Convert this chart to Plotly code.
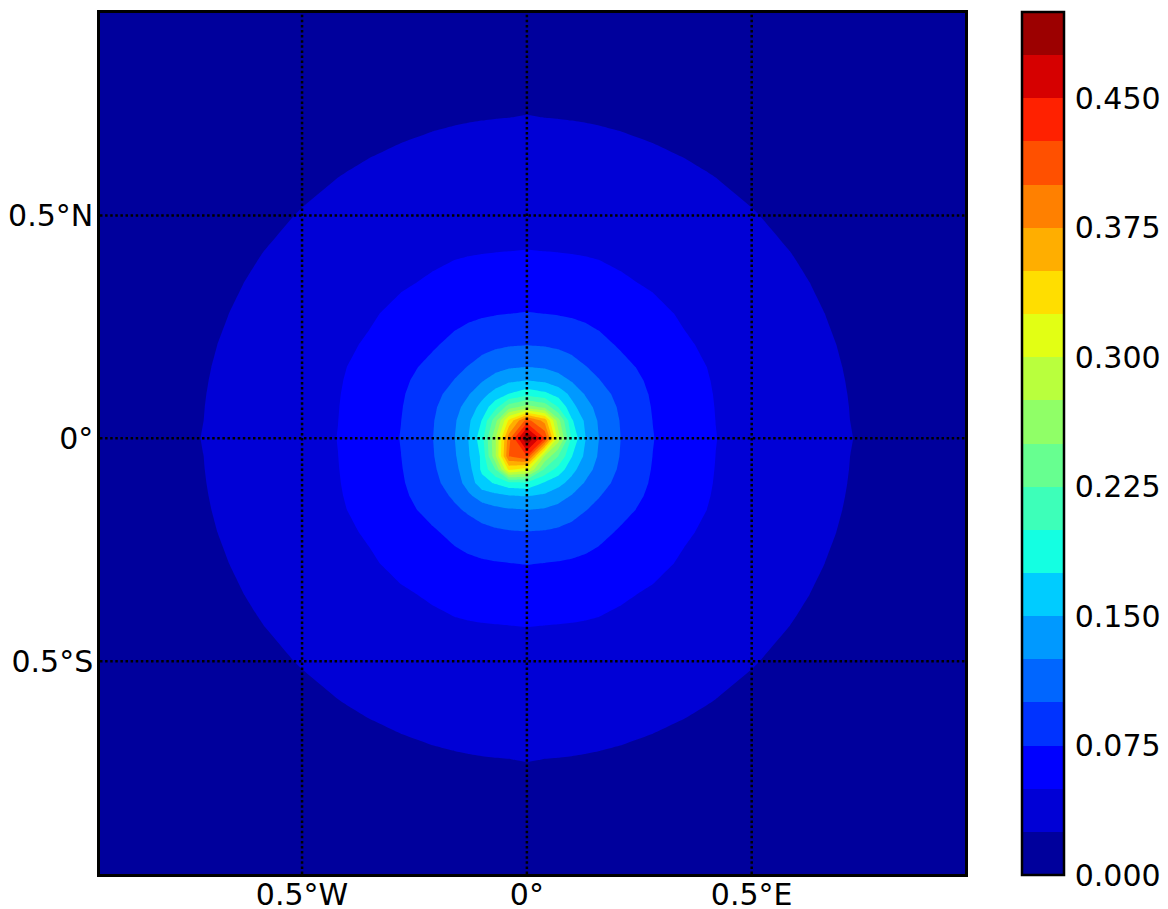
import numpy as np
import plotly.graph_objects as go

# Longitude / latitude nodes (degrees), field values in thousandths
LON = [-1, -.72, -.6, -.5, -.42, -.35, -.28, -.21, -.16, -.13, -.1, -.07, -.04, 0,
       .04, .07, .1, .13, .16, .21, .28, .35, .42, .5, .6, .72, 1]
LAT_N_TO_S = [1, .72, .6, .5, .42, .35, .28, .21, .16, .13, .1, .07, .04, 0,
              -.04, -.07, -.1, -.13, -.16, -.21, -.28, -.35, -.42, -.5, -.6, -.72, -1]
Z_MILLI = [
 [1,1,1,1,1,1,1,1,2,2,2,2,2,2,2,2,2,2,2,1,1,1,1,1,1,1,1],
 [1,1,7,12,15.5,18.4,20.6,22.5,23.5,24,24.4,24.7,24.9,25.5,24.9,24.7,24.4,24,23.5,22.5,20.6,18.4,15.5,12,7,1,1],
 [1,7,14.3,19.9,24,27.1,29.8,32,33.3,33.8,34.3,34.7,34.9,35,34.9,34.7,34.3,33.8,33.3,32,29.8,27.1,24,19.9,14.3,7,1],
 [1,12,19.9,26.1,30.6,34.2,37.2,39.8,41.3,42,42.5,42.9,43.2,43.3,43.2,42.9,42.5,42,41.3,39.8,37.2,34.2,30.6,26.1,19.9,12,1],
 [1,15.5,24,30.6,35.5,39.4,42.9,45.8,47.5,48.3,49,49.5,49.9,50.3,49.9,49.5,49,48.3,47.5,45.8,42.9,39.4,35.5,30.6,24,15.5,1],
 [1,18.4,27.1,34.2,39.4,43.8,47.7,52.2,56.4,58.5,60.2,61.4,62.3,62.7,62.3,61.4,60.2,58.5,56.4,52.2,47.7,43.8,39.4,34.2,27.1,18.4,1],
 [1,20.6,29.8,37.2,42.9,47.7,54.8,62.7,67.8,70.1,72.3,73.7,74.8,75.7,74.8,73.7,72.3,70.1,67.8,62.7,54.8,47.7,42.9,37.2,29.8,20.6,1],
 [1,22.5,32,39.8,45.8,52.2,62.7,72.3,81,86.8,91.5,95.6,98,99.3,98,95.6,91.5,86.8,81,72.3,62.7,52.2,45.8,39.8,32,22.5,1],
 [1,23.5,33.3,41.3,47.5,56.4,67.8,81,94,101,110,117,122.4,125.3,122.4,117,110,101,94,81,67.8,56.4,47.5,41.3,33.3,23.5,1],
 [2,24,33.8,42,48.3,58.5,70.1,86.8,101,112,123,135,145,150.4,145,135,123,112,101,86.8,70.1,58.5,48.3,42,33.8,24,2],
 [2,24.4,34.3,42.5,49,60.2,72.3,91.5,110,123,141,159,175.3,190,180,165,143,123,110,91.5,72.3,60.2,49,42.5,34.3,24.4,2],
 [2,24.7,34.7,42.9,49.5,61.4,73.7,95.6,117,135,159,192,240,262,245,200,158,135,117,95.6,73.7,61.4,49.5,42.9,34.7,24.7,2],
 [2,24.9,34.9,43.2,49.9,62.3,74.8,98,122.4,145,176,240,330,410,365,260,178,146,122.4,98,74.8,62.3,49.9,43.2,34.9,24.9,2],
 [2,25.5,35,43.3,50.3,62.7,75.7,99.3,125.3,150.4,190,272,390,505,425,290,195,151,125.3,99.3,75.7,62.7,50.3,43.3,35,25.5,2],
 [2,24.9,34.9,43.2,49.9,62.3,74.8,98,122.4,147,180,270,400,425,270,225,176,145,122.4,98,74.8,62.3,49.9,43.2,34.9,24.9,2],
 [2,24.7,34.7,42.9,49.5,61.4,73.7,95.6,119,140,180,225,330,312,220,190,158,135,117,95.6,73.7,61.4,49.5,42.9,34.7,24.7,2],
 [2,24.4,34.3,42.5,49,60.2,72.3,92.5,113,135,165,178,192,195,172,158,141,123,110,91.5,72.3,60.2,49,42.5,34.3,24.4,2],
 [2,24,33.8,42,48.3,58.5,70.1,88,104,120,135,142,147,150.4,145,135,123,112,101,86.8,70.1,58.5,48.3,42,33.8,24,2],
 [1,23.5,33.3,41.3,47.5,56.4,67.8,82,96,104,113,119,123,125.3,122.4,117,110,101,94,81,67.8,56.4,47.5,41.3,33.3,23.5,1],
 [1,22.5,32,39.8,45.8,52.2,62.7,72.3,81,86.8,91.5,95.6,98,99.3,98,95.6,91.5,86.8,81,72.3,62.7,52.2,45.8,39.8,32,22.5,1],
 [1,20.6,29.8,37.2,42.9,47.7,54.8,62.7,67.8,70.1,72.3,73.7,74.8,75.7,74.8,73.7,72.3,70.1,67.8,62.7,54.8,47.7,42.9,37.2,29.8,20.6,1],
 [1,18.4,27.1,34.2,39.4,43.8,47.7,52.2,56.4,58.5,60.2,61.4,62.3,62.7,62.3,61.4,60.2,58.5,56.4,52.2,47.7,43.8,39.4,34.2,27.1,18.4,1],
 [1,15.5,24,30.6,35.5,39.4,42.9,45.8,47.5,48.3,49,49.5,49.9,50.3,49.9,49.5,49,48.3,47.5,45.8,42.9,39.4,35.5,30.6,24,15.5,1],
 [1,12,19.9,26.1,30.6,34.2,37.2,39.8,41.3,42,42.5,42.9,43.2,43.3,43.2,42.9,42.5,42,41.3,39.8,37.2,34.2,30.6,26.1,19.9,12,1],
 [1,7,14.3,19.9,24,27.1,29.8,32,33.3,33.8,34.3,34.7,34.9,35,34.9,34.7,34.3,33.8,33.3,32,29.8,27.1,24,19.9,14.3,7,1],
 [1,1,7,12,15.5,18.4,20.6,22.5,23.5,24,24.4,24.7,24.9,25.5,24.9,24.7,24.4,24,23.5,22.5,20.6,18.4,15.5,12,7,1,1],
 [1,1,1,1,1,1,1,1,2,2,2,2,2,2,2,2,2,2,2,1,1,1,1,1,1,1,1],
]

BAND_COLORS = ["#00009c", "#0000d6", "#0000ff", "#0033ff", "#0066ff", "#0099ff", "#00ccff",
               "#14ffe2", "#3dffb9", "#67ff90", "#90ff67", "#b9ff3d", "#e2ff14", "#ffde00",
               "#ffae00", "#ff8000", "#ff5000", "#ff2100", "#d60000", "#9c0000"]
LON_TICKS = [-.5, 0, .5]
LON_LABELS = ["0.5°W", "0°", "0.5°E"]
LAT_TICKS = [-.5, 0, .5]
LAT_LABELS = ["0.5°S", "0°", "0.5°N"]
CBAR_TICKS = [0, .075, .15, .225, .3, .375, .45]

X_RANGE = [-.9494, .9744]
Y_RANGE = [-.977, .954]
FONT = "DejaVu Sans"
FS = 30
LEFT, RIGHT, TOP, BOTTOM = 99.75, 965.5, 12.5, 873.75
W, H = RIGHT - LEFT, BOTTOM - TOP
CB_LEFT, CB_RIGHT, CB_TOP, CB_BOTTOM = 1023, 1065, 11.25, 875

n = len(BAND_COLORS)
colorscale = []
for i, c in enumerate(BAND_COLORS):
    colorscale += [[i / n, c], [(i + 1) / n, c]]

z = (np.array(Z_MILLI, dtype=float) / 1000)[::-1]

fig = go.Figure(go.Contour(
    x=LON, y=LAT_N_TO_S[::-1], z=z,
    zmin=0, zmax=.5, autocontour=False,
    contours=dict(start=0, end=.5, size=.025, coloring="fill", showlines=False),
    line=dict(width=0, smoothing=0),
    colorscale=colorscale,
    hoverinfo="skip",
    colorbar=dict(
        thicknessmode="pixels", thickness=CB_RIGHT - CB_LEFT,
        lenmode="fraction", len=(CB_BOTTOM - CB_TOP) / H,
        x=(CB_LEFT - LEFT) / W, xanchor="left", xpad=0, ypad=0, y=.5, yanchor="middle",
        tickmode="array", tickvals=CBAR_TICKS, tickformat=".3f",
        ticks="outside", ticklen=4, tickwidth=1, tickcolor="rgba(0,0,0,0)",
        tickfont=dict(family=FONT, size=FS, color="black"),
        outlinecolor="black", outlinewidth=2.5, borderwidth=0,
    ),
))

for v in LON_TICKS:
    fig.add_shape(type="line", xref="x", yref="paper", x0=v, x1=v, y0=0, y1=1, layer="above",
                  line=dict(color="black", width=2.5, dash="2.5px,2.6px"))
for v in LAT_TICKS:
    fig.add_shape(type="line", xref="paper", yref="y", x0=0, x1=1, y0=v, y1=v, layer="above",
                  line=dict(color="black", width=2.5, dash="2.5px,2.6px"))
# short inward tick marks on the colour bar
for v in CBAR_TICKS:
    py = CB_BOTTOM - v / .5 * (CB_BOTTOM - CB_TOP)
    yp = (BOTTOM - py) / H
    fig.add_shape(type="line", xref="paper", yref="paper", layer="above",
                  x0=(CB_RIGHT - 9 - LEFT) / W, x1=(CB_RIGHT - LEFT) / W, y0=yp, y1=yp,
                  line=dict(color="black", width=1.5))

axis = dict(showgrid=False, zeroline=False, ticks="", showline=True, mirror=True,
            linecolor="black", linewidth=2.5, layer="above traces",
            tickfont=dict(family=FONT, size=FS, color="black"))
fig.update_xaxes(range=X_RANGE, tickmode="array", tickvals=LON_TICKS, ticktext=LON_LABELS,
                 ticklabelstandoff=-8, **axis)
fig.update_yaxes(range=Y_RANGE, tickmode="array", tickvals=LAT_TICKS, ticktext=LAT_LABELS,
                 ticklabelstandoff=-2, **axis)
fig.update_layout(width=1168, height=909,
                  margin=dict(l=LEFT, r=1168 - RIGHT, t=TOP, b=909 - BOTTOM, autoexpand=False),
                  paper_bgcolor="white", plot_bgcolor="#00009c", showlegend=False)
fig.write_html("out.html", post_script="document.body.style.margin='0';",
               config={"displayModeBar": False})
